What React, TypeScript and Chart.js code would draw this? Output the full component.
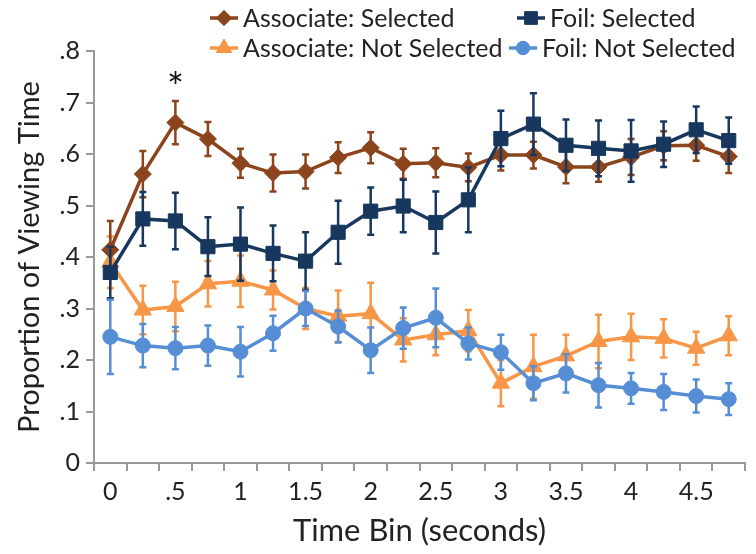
import React, { useEffect, useRef } from 'react';
import { Chart, registerables } from 'chart.js';
import { drawPoint } from 'chart.js/helpers';

Chart.register(...registerables);

const FONT = 'Lato, "Open Sans", sans-serif';

const timeBins = ['0', '.25', '.5', '.75', '1', '1.25', '1.5', '1.75', '2', '2.25', '2.5', '2.75', '3', '3.25', '3.5', '3.75', '4', '4.25', '4.5', '4.75'];
const xTickLabels = ['0', '', '.5', '', '1', '', '1.5', '', '2', '', '2.5', '', '3', '', '3.5', '', '4', '', '4.5', ''];
const yTickLabels = ['0', '.1', '.2', '.3', '.4', '.5', '.6', '.7', '.8'];

const assocSelected = [0.414, 0.561, 0.661, 0.629, 0.582, 0.563, 0.566, 0.593, 0.612, 0.581, 0.583, 0.574, 0.598, 0.598, 0.575, 0.575, 0.594, 0.616, 0.617, 0.595];
const assocSelectedErr = [0.056, 0.045, 0.042, 0.033, 0.028, 0.036, 0.033, 0.030, 0.030, 0.029, 0.028, 0.027, 0.030, 0.026, 0.032, 0.029, 0.035, 0.028, 0.030, 0.032];

const foilSelected = [0.370, 0.474, 0.470, 0.420, 0.425, 0.407, 0.392, 0.448, 0.489, 0.499, 0.467, 0.511, 0.630, 0.658, 0.617, 0.611, 0.606, 0.619, 0.647, 0.626];
const foilSelectedErr = [0.050, 0.052, 0.055, 0.057, 0.071, 0.054, 0.056, 0.061, 0.046, 0.051, 0.060, 0.063, 0.054, 0.060, 0.050, 0.054, 0.060, 0.044, 0.045, 0.045];

const assocNotSelected = [0.390, 0.297, 0.304, 0.348, 0.353, 0.336, 0.300, 0.285, 0.290, 0.239, 0.249, 0.257, 0.155, 0.187, 0.208, 0.236, 0.245, 0.242, 0.223, 0.247];
const assocNotSelectedErr = [0.050, 0.047, 0.048, 0.044, 0.050, 0.038, 0.040, 0.050, 0.060, 0.042, 0.040, 0.040, 0.045, 0.062, 0.041, 0.052, 0.045, 0.037, 0.032, 0.038];

const foilNotSelected = [0.245, 0.228, 0.223, 0.228, 0.216, 0.252, 0.300, 0.265, 0.219, 0.262, 0.282, 0.232, 0.215, 0.155, 0.174, 0.151, 0.145, 0.138, 0.130, 0.124];
const foilNotSelectedErr = [0.072, 0.042, 0.041, 0.039, 0.048, 0.034, 0.034, 0.031, 0.044, 0.040, 0.057, 0.031, 0.034, 0.033, 0.037, 0.043, 0.030, 0.035, 0.032, 0.031];

const significantBins = ['.5'];

const seriesNames = ['Associate: Selected', 'Foil: Selected', 'Associate: Not Selected', 'Foil: Not Selected'];
const seriesColors = ['#8B441C', '#17375E', '#F79646', '#558ED5'];
const seriesStyles = ['rectRot', 'rect', 'triangle', 'circle'];
const seriesRadius = [8.5, 10, 10, 7.5];
const seriesOrder = [3, 2, 4, 1];
const seriesValues = [assocSelected, foilSelected, assocNotSelected, foilNotSelected];
const seriesErrors = [assocSelectedErr, foilSelectedErr, assocNotSelectedErr, foilNotSelectedErr];

const errorBarPlugin = {
  id: 'errorBars',
  beforeDatasetDraw(chart: any, args: any) {
    const ds = chart.data.datasets[args.index];
    const errs: number[] = ds.errors;
    if (!errs) return;
    const y = chart.scales.y;
    const ctx = chart.ctx;
    ctx.save();
    ctx.strokeStyle = ds.borderColor;
    ctx.lineWidth = 2.5;
    args.meta.data.forEach((el: any, i: number) => {
      const v = ds.data[i];
      const top = y.getPixelForValue(v + errs[i]);
      const bot = y.getPixelForValue(v - errs[i]);
      ctx.beginPath();
      ctx.moveTo(el.x, top);
      ctx.lineTo(el.x, bot);
      ctx.moveTo(el.x - 3.5, top);
      ctx.lineTo(el.x + 3.5, top);
      ctx.moveTo(el.x - 3.5, bot);
      ctx.lineTo(el.x + 3.5, bot);
      ctx.stroke();
    });
    ctx.restore();
  },
};

const sigPlugin = {
  id: 'sig',
  afterDatasetsDraw(chart: any) {
    const ctx = chart.ctx;
    const ds = chart.data.datasets[0];
    const meta = chart.getDatasetMeta(0);
    ctx.save();
    ctx.fillStyle = '#111';
    ctx.font = `40px ${FONT}`;
    ctx.textAlign = 'center';
    ctx.textBaseline = 'middle';
    significantBins.forEach((b) => {
      const i = timeBins.indexOf(b);
      const el = meta.data[i];
      const top = chart.scales.y.getPixelForValue(ds.data[i] + ds.errors[i]);
      ctx.fillText('*', el.x, top - 12);
    });
    ctx.restore();
  },
};

const legendPlugin = {
  id: 'customLegend',
  afterDraw(chart: any) {
    const ctx = chart.ctx;
    const pos = [
      { y: 18, m: 224, t: 243 },
      { y: 18, m: 531, t: 550 },
      { y: 48, m: 224, t: 243 },
      { y: 48, m: 523, t: 542 },
    ];
    ctx.save();
    ctx.font = `25px ${FONT}`;
    ctx.textBaseline = 'middle';
    ctx.textAlign = 'left';
    seriesNames.forEach((name, k) => {
      const p = pos[k];
      const col = seriesColors[k];
      ctx.strokeStyle = col;
      ctx.lineWidth = 3.5;
      ctx.beginPath();
      ctx.moveTo(p.m - 14, p.y);
      ctx.lineTo(p.m + 14, p.y);
      ctx.stroke();
      ctx.fillStyle = col;
      ctx.lineWidth = 1;
      drawPoint(ctx, { pointStyle: seriesStyles[k] as any, radius: seriesRadius[k] * 0.9, rotation: 0, borderWidth: 1 }, p.m, p.y);
      ctx.fillStyle = '#222';
      ctx.fillText(name, p.t, p.y + 1);
    });
    ctx.restore();
  },
};

export default function App() {
  const ref = useRef<HTMLCanvasElement>(null);
  useEffect(() => {
    document.body.style.margin = '0';
    const datasets = seriesNames.map((name, k) => ({
      label: name,
      data: seriesValues[k],
      errors: seriesErrors[k],
      borderColor: seriesColors[k],
      backgroundColor: seriesColors[k],
      pointBackgroundColor: seriesColors[k],
      pointBorderColor: seriesColors[k],
      pointStyle: seriesStyles[k],
      pointRadius: seriesRadius[k],
      pointBorderWidth: 1,
      borderWidth: 3.5,
      tension: 0,
      order: seriesOrder[k],
    }));
    const chart = new Chart(ref.current!, {
      type: 'line',
      data: { labels: timeBins, datasets: datasets as any },
      options: {
        animation: false,
        responsive: false,
        layout: { padding: { top: 51, right: 8, left: 0, bottom: 0 } },
        plugins: { legend: { display: false }, tooltip: { enabled: false } },
        scales: {
          x: {
            type: 'category',
            offset: true,
            grid: { offset: true, drawOnChartArea: false, drawTicks: true, tickLength: 8, color: '#999', lineWidth: 2 },
            border: { color: '#999', width: 2 },
            ticks: {
              autoSkip: false,
              maxRotation: 0,
              minRotation: 0,
              padding: 6,
              color: '#222',
              font: { family: FONT, size: 25 },
              callback: (_v: any, i: number) => xTickLabels[i],
            },
            title: { display: true, text: 'Time Bin (seconds)', color: '#222', font: { family: FONT, size: 31 }, padding: { top: 4, bottom: 4 } },
            afterFit: (s: any) => { s.height = 91; },
          },
          y: {
            min: 0,
            max: 0.8,
            grid: { drawOnChartArea: false, drawTicks: true, tickLength: 8, color: '#999', lineWidth: 2 },
            border: { color: '#999', width: 2 },
            ticks: {
              stepSize: 0.1,
              padding: 6,
              color: '#222',
              font: { family: FONT, size: 25 },
              callback: (v: any) => yTickLabels[Math.round(Number(v) * 10)],
            },
            title: { display: true, text: 'Proportion of Viewing Time', color: '#222', font: { family: FONT, size: 29 }, padding: { top: 12, bottom: 4 } },
            afterFit: (s: any) => { s.width = 94; },
          },
        },
      },
      plugins: [errorBarPlugin, sigPlugin, legendPlugin],
    });
    return () => chart.destroy();
  }, []);
  return (
    <div style={{ width: 756, height: 554, position: 'relative', background: '#fff' }}>
      <canvas ref={ref} width={756} height={554} style={{ display: 'block' }} />
    </div>
  );
}
